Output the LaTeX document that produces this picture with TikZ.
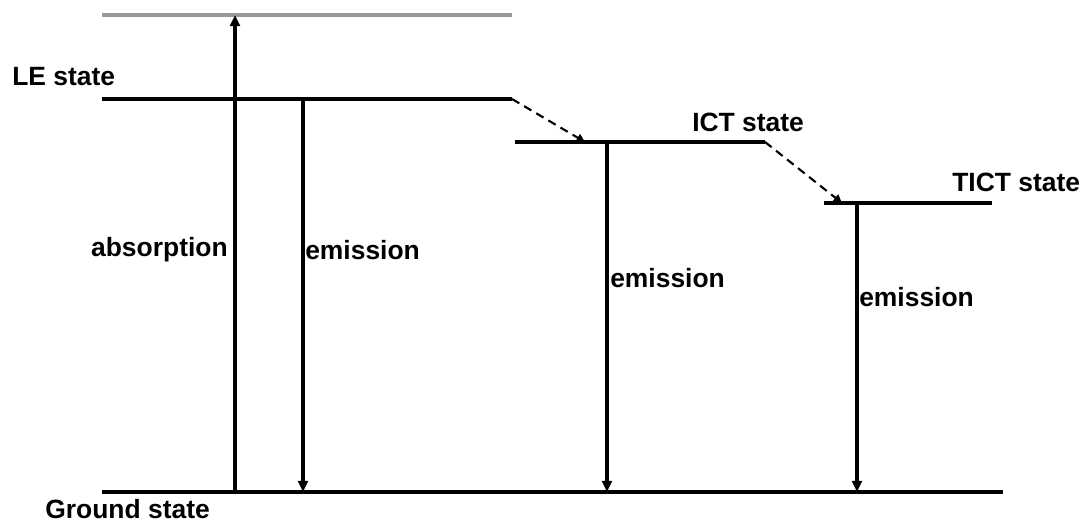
\documentclass[tikz,border=0pt]{standalone}
\usepackage{fontspec}
\setmainfont{Liberation Sans}
\usetikzlibrary{arrows.meta,positioning}

\begin{document}
\begin{tikzpicture}[
  x=0.025cm, y=-0.025cm,
  level/.style={line width=2.2pt},
  toplevel/.style={line width=2.2pt, gray!80},
  trans/.style={-{Triangle[length=8pt,width=7pt]}, line width=2.2pt},
  relax/.style={-{Triangle[length=6pt,width=6pt]}, line width=1.5pt, dash pattern=on 6pt off 4pt},
  lbl/.style={font=\fontsize{18.8}{22}\selectfont\bfseries, inner sep=0pt},
]
  \useasboundingbox (0,0) rectangle (1082,524);

  % Energy levels
  \coordinate (s2l) at (102,15);   \coordinate (s2r) at (512,15);
  \coordinate (lel) at (102,99);   \coordinate (ler) at (512,99);
  \coordinate (ictl) at (515,142); \coordinate (ictr) at (765,142);
  \coordinate (ticl) at (824,203); \coordinate (ticr) at (992,203);
  \coordinate (gsl) at (102,492);  \coordinate (gsr) at (1003,492);

  \draw[toplevel] (s2l) -- (s2r);
  \draw[level] (lel) -- (ler);
  \draw[level] (ictl) -- (ictr);
  \draw[level] (ticl) -- (ticr);
  \draw[level] (gsl) -- (gsr);

  % Relaxation between excited states
  \coordinate (ictin) at (585,142);
  \coordinate (ticin) at (842,203);
  \draw[relax] (ler) -- (ictin);
  \draw[relax] (ictr) -- (ticin);

  % Absorption and emission
  \coordinate (absb) at (235,492); \coordinate (abst) at (235,15);
  \draw[trans] (absb) -- (abst);
  \coordinate (em1t) at (303,99);  \coordinate (em1b) at (303,492);
  \coordinate (em2t) at (607,142); \coordinate (em2b) at (607,492);
  \coordinate (em3t) at (857,203); \coordinate (em3b) at (857,492);
  \draw[trans] (em1t) -- (em1b);
  \draw[trans] (em2t) -- (em2b);
  \draw[trans] (em3t) -- (em3b);

  % Labels
  \node[lbl, anchor=west] (lelabel) at (12,77) {LE state};
  \node[lbl, anchor=west] (ictlabel) at (692,122) {ICT state};
  \node[lbl, anchor=west] (ticlabel) at (952,182) {TICT state};
  \node[lbl, anchor=base west] (gslabel) at (45,518) {Ground state};
  \node[lbl, anchor=east] (abslabel) at (228,250) {absorption};
  \node[lbl, anchor=west] (em1label) at (305,250) {emission};
  \node[lbl, anchor=west] (em2label) at (610,278) {emission};
  \node[lbl, anchor=west] (em3label) at (859,297) {emission};
\end{tikzpicture}
\end{document}
